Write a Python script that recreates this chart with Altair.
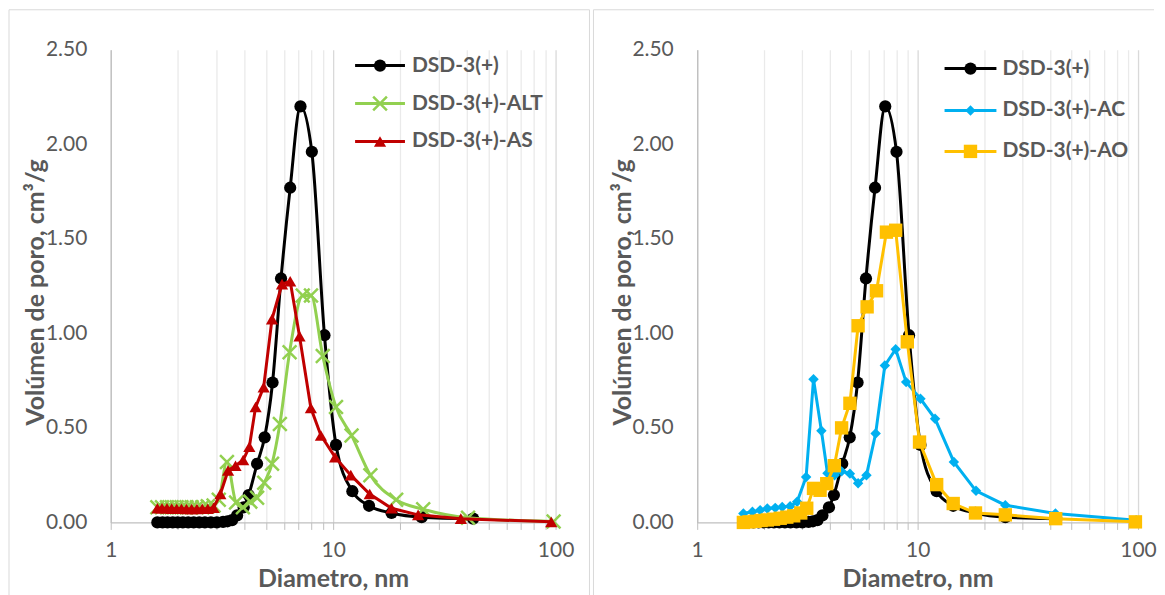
import altair as alt
import pandas as pd

FONT = "Lato"
TXT = "#595959"

# ---------------- data ----------------
# DSD-3(+)  (black, both panels)
d_base = [1.62, 1.71, 1.80, 1.90, 2.00, 2.11, 2.23, 2.36, 2.50, 2.65, 2.82, 3.00, 3.20, 3.35,
          3.51, 3.70, 3.96, 4.17, 4.55, 4.92, 5.34, 5.83, 6.41, 7.13, 8.02, 9.14, 10.3, 12.2,
          14.5, 18.3, 25.0, 42.6]
v_base = [0.0, 0.0, 0.0, 0.0, 0.0, 0.0, 0.0, 0.0, 0.0, 0.0, 0.0, 0.0, 0.003, 0.006,
          0.012, 0.037, 0.08, 0.145, 0.31, 0.45, 0.74, 1.29, 1.77, 2.20, 1.96, 0.99, 0.41, 0.165,
          0.088, 0.05, 0.028, 0.02]

# DSD-3(+)-ALT (green)
d_alt = [1.62, 1.70, 1.79, 1.88, 1.98, 2.08, 2.19, 2.31, 2.44, 2.58, 2.73, 2.90, 3.06, 3.33,
         3.66, 3.93, 4.24, 4.55, 4.90, 5.31, 5.76, 6.37, 7.30, 7.95, 8.98, 10.3, 12.1, 14.7,
         19.2, 25.4, 40.4, 98.0]
v_alt = [0.08, 0.08, 0.08, 0.08, 0.08, 0.08, 0.08, 0.08, 0.08, 0.08, 0.085, 0.09, 0.12, 0.32,
         0.105, 0.08, 0.11, 0.13, 0.21, 0.31, 0.52, 0.90, 1.20, 1.20, 0.88, 0.61, 0.46, 0.25,
         0.12, 0.07, 0.025, 0.005]

# DSD-3(+)-AS (red)
d_as = [1.62, 1.70, 1.79, 1.88, 1.98, 2.08, 2.19, 2.31, 2.44, 2.58, 2.73, 2.90, 3.11, 3.37,
        3.64, 3.94, 4.20, 4.48, 4.87, 5.31, 5.89, 6.41, 7.06, 7.94, 8.81, 10.2, 12.0, 14.6,
        18.3, 24.1, 37.5, 95.6]
v_as = [0.075, 0.075, 0.075, 0.073, 0.072, 0.072, 0.071, 0.071, 0.071, 0.072, 0.072, 0.078, 0.15, 0.275,
        0.30, 0.33, 0.40, 0.61, 0.715, 1.075, 1.26, 1.275, 0.985, 0.605, 0.46, 0.345, 0.25, 0.15,
        0.075, 0.04, 0.02, 0.003]

# DSD-3(+)-AC (blue)
d_ac = [1.62, 1.78, 1.93, 2.08, 2.26, 2.43, 2.64, 2.84, 3.12, 3.37, 3.66, 3.90, 4.20, 4.52,
        4.93, 5.37, 5.86, 6.45, 7.10, 7.95, 8.87, 10.3, 12.0, 14.6, 18.4, 25.0, 42.2, 98.0]
v_ac = [0.047, 0.056, 0.065, 0.074, 0.077, 0.082, 0.086, 0.109, 0.24, 0.757, 0.485, 0.26, 0.25, 0.27,
        0.258, 0.207, 0.25, 0.47, 0.83, 0.916, 0.742, 0.654, 0.548, 0.32, 0.167, 0.091, 0.047, 0.012]

# DSD-3(+)-AO (yellow)
d_ao = [1.62, 1.72, 1.83, 1.95, 2.08, 2.22, 2.38, 2.55, 2.74, 2.95, 3.14, 3.37, 3.61, 3.87,
        4.19, 4.52, 4.93, 5.37, 5.90, 6.51, 7.22, 7.95, 8.98, 10.2, 12.2, 14.5, 18.3, 25.0,
        42.3, 97.3]
v_ao = [0.0, 0.003, 0.006, 0.01, 0.013, 0.017, 0.022, 0.028, 0.035, 0.05, 0.075, 0.18, 0.17, 0.205,
        0.30, 0.50, 0.63, 1.04, 1.14, 1.225, 1.535, 1.545, 0.955, 0.425, 0.2, 0.1, 0.05, 0.04,
        0.02, 0.003]

x_ticks = [1, 2, 3, 4, 5, 6, 7, 8, 9, 10, 20, 30, 40, 50, 60, 70, 80, 90, 100]
x_labels = [1, 10, 100]
y_ticks = [0, 0.5, 1.0, 1.5, 2.0, 2.5]

# ---------------- helpers ----------------
W_L, W_R, H = 446, 442, 474

xscale = alt.Scale(type="log", domain=[1, 100], nice=False)
yscale = alt.Scale(domain=[0, 2.5], nice=False, zero=False)

label_test = " || ".join(f"datum.value == {v}" for v in x_labels)


def xaxis():
    return alt.Axis(
        values=x_ticks,
        labelExpr=f"({label_test}) ? '' + datum.value : ''",
        labelOverlap=False,
        labelFlush=False,
        grid=True,
        gridColor=alt.condition(label_test, alt.value("#D9D9D9"), alt.value("#EAEAEA")),
        gridWidth=1.3,
        domainColor="#BFBFBF",
        domainWidth=1.3,
        tickColor="#BFBFBF",
        tickSize=7,
        labelFont=FONT,
        labelFontSize=21,
        labelColor=TXT,
        labelPadding=10,
        title="Diametro, nm",
        titleFont=FONT,
        titleFontSize=25,
        titleFontWeight="bold",
        titleColor=TXT,
        titleBaseline="alphabetic",
        titleY=64,
    )


def yaxis():
    return alt.Axis(
        values=y_ticks,
        format=".2f",
        grid=False,
        ticks=False,
        domainColor="#BFBFBF",
        domainWidth=1.3,
        labelFont=FONT,
        labelFontSize=21,
        labelColor=TXT,
        labelPadding=24,
        title="Volúmen de poro, cm³/g",
        titleFont=FONT,
        titleFontSize=25,
        titleFontWeight="bold",
        titleColor=TXT,
        titleAngle=-90,
        titleAlign="center",
        titleBaseline="alphabetic",
        titleX=-67,
        titleY=H / 2 + 6,
    )


def series(d, v, color, shape, filled, size, interp, sw=2.5):
    df = pd.DataFrame({"d": d, "v": v})
    base = alt.Chart(df).encode(
        x=alt.X("d:Q", scale=xscale, axis=xaxis()),
        y=alt.Y("v:Q", scale=yscale, axis=yaxis()),
    )
    line = base.mark_line(color=color, strokeWidth=3, interpolate=interp)
    if filled:
        pts = base.mark_point(shape=shape, filled=True, size=size, color=color, opacity=1)
    else:
        pts = base.mark_point(shape=shape, filled=False, size=size, color=color, opacity=1,
                              strokeWidth=sw)
    return [line, pts]


def legend_row(name, color, shape, filled, size, y, x0, x1, xt, sw=2.5):
    df = pd.DataFrame({"t": [name]})
    rule = alt.Chart(df).mark_rule(color=color, strokeWidth=3).encode(
        x=alt.value(x0), x2=alt.value(x1), y=alt.value(y))
    if filled:
        pt = alt.Chart(df).mark_point(shape=shape, filled=True, size=size, color=color,
                                      opacity=1).encode(x=alt.value((x0 + x1) / 2), y=alt.value(y))
    else:
        pt = alt.Chart(df).mark_point(shape=shape, filled=False, size=size, color=color,
                                      opacity=1, strokeWidth=sw).encode(
            x=alt.value((x0 + x1) / 2), y=alt.value(y))
    txt = alt.Chart(df).mark_text(align="left", baseline="middle", font=FONT, fontSize=21,
                                  fontWeight="bold", color=TXT).encode(
        x=alt.value(xt), y=alt.value(y), text="t:N")
    return [rule, pt, txt]


def frame(left, right, top, bottom, draw_right=True):
    df = pd.DataFrame({"k": [0]})
    parts = [
        alt.Chart(df).mark_rule(color="#D9D9D9", strokeWidth=1).encode(
            x=alt.value(left), y=alt.value(top), y2=alt.value(bottom)),
        alt.Chart(df).mark_rule(color="#D9D9D9", strokeWidth=1).encode(
            x=alt.value(left), x2=alt.value(right), y=alt.value(top)),
    ]
    if draw_right:
        parts.append(alt.Chart(df).mark_rule(color="#D9D9D9", strokeWidth=1).encode(
            x=alt.value(right), y=alt.value(top), y2=alt.value(bottom)))
    return parts


XSHAPE = "M-1,-1L1,1M-1,1L1,-1"

# ---------------- left panel ----------------
left_layers = []
left_layers += frame(-102, 480, -40, 548, draw_right=True)
left_layers += series(d_base, v_base, "#000000", "circle", True, 150, "monotone")
left_layers += series(d_alt, v_alt, "#92D050", XSHAPE, False, 190, "monotone")
left_layers += series(d_as, v_as, "#C00000", "triangle-up", True, 150, "linear")
left_layers += legend_row("DSD-3(+)", "#000000", "circle", True, 150, 16, 245, 295, 302)
left_layers += legend_row("DSD-3(+)-ALT", "#92D050", XSHAPE, False, 190, 54, 245, 295, 302)
left_layers += legend_row("DSD-3(+)-AS", "#C00000", "triangle-up", True, 150, 92, 245, 295, 302)
left = alt.layer(*left_layers).properties(width=W_L, height=H)

# ---------------- right panel ----------------
right_layers = []
right_layers += frame(-104, 458, -40, 548, draw_right=False)
right_layers += series(d_base, v_base, "#000000", "circle", True, 150, "monotone")
right_layers += series(d_ac, v_ac, "#00B0F0", "diamond", True, 110, "linear")
right_layers += series(d_ao, v_ao, "#FFC000", "square", True, 180, "linear")
right_layers += legend_row("DSD-3(+)", "#000000", "circle", True, 150, 19, 248, 300, 306)
right_layers += legend_row("DSD-3(+)-AC", "#00B0F0", "diamond", True, 110, 61, 248, 300, 306)
right_layers += legend_row("DSD-3(+)-AO", "#FFC000", "square", True, 180, 102, 248, 300, 306)
right = alt.layer(*right_layers).properties(width=W_R, height=H)

chart = alt.hconcat(left, right, spacing=2).properties(
    padding=0, background="white"
).configure_view(strokeWidth=0)

chart.save("out.html", embed_options={"renderer": "svg", "actions": False})
